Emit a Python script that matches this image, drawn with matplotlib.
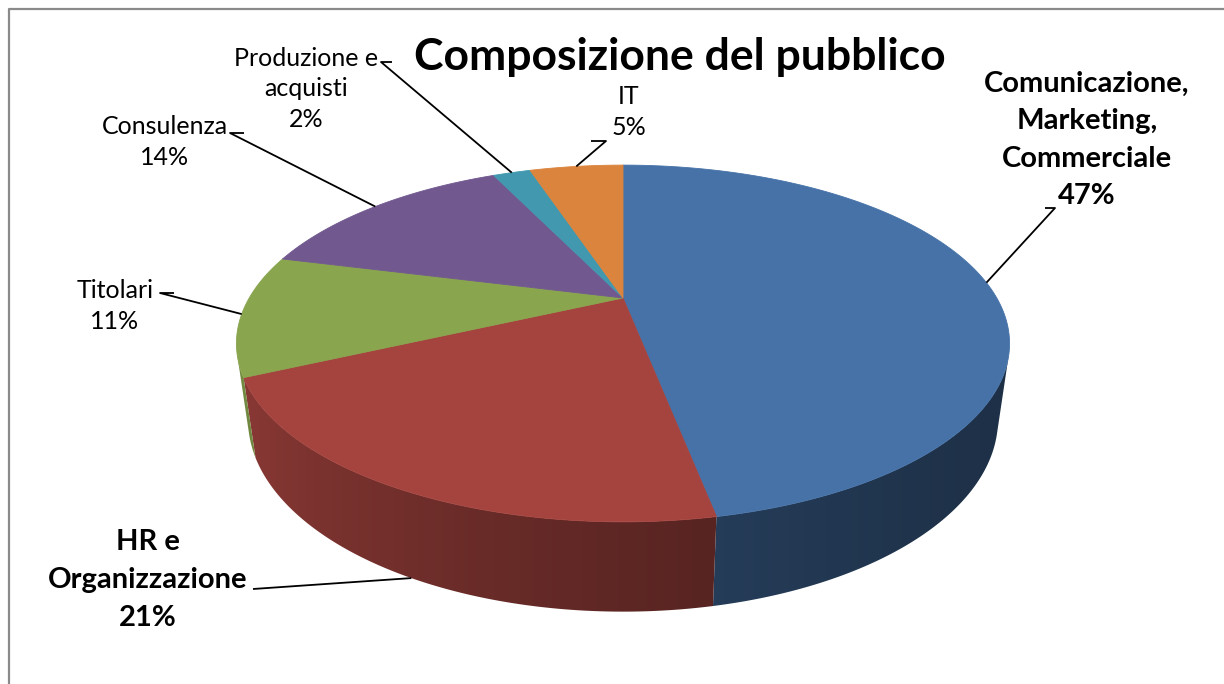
import numpy as np
import matplotlib.pyplot as plt
from matplotlib.patches import Polygon
from matplotlib.colors import to_rgb

categories = ['Comunicazione,\nMarketing,\nCommerciale', 'HR e\nOrganizzazione', 'Titolari',
              'Consulenza', 'Produzione e\nacquisti', 'IT']
shares = [47, 21, 11, 14, 2, 5]
colors = ['#4672A8', '#A5443F', '#89A54E', '#71588F', '#4298AF', '#DB843D']
bold = [True, True, False, False, False, False]

# label placement (centre of text block) and leader elbow points, in pixels
label_xy = [(1087, 140), (148, 580), (115, 306), (165, 142), (306, 89), (629, 112)]
elbows = [[(1055, 208), (1045, 208)], [(253, 589)], [(160, 293), (174, 293)],
          [(230, 133), (244, 133)], [(381, 62), (392, 62)], [(606, 141), (591, 141)]]

# 3d camera for the pie
ELEV = np.radians(26.5)
DIST = 3.51
SCALE = 1312
CX, CY = 623, 298
THICK = 0.227


def project(theta, z):
    # theta measured clockwise from 12 o'clock, unit radius
    x = np.sin(theta)
    y = np.cos(theta)
    c, s = np.cos(ELEV), np.sin(ELEV)
    depth = DIST + y * c - z * s
    return CX + SCALE * x / depth, CY - SCALE * (y * s + z * c) / depth


fig = plt.figure(figsize=(12.24, 6.84), dpi=100)
ax = fig.add_axes([0, 0, 1, 1])

ax.plot([9, 9, 1230], [690, 9, 9], color='#8a8a8a', lw=1.6)

fracs = np.array(shares) / sum(shares)
edges = np.concatenate([[0], np.cumsum(fracs)]) * 2 * np.pi

# outer wall, only the part facing the camera, shaded left to right
lim = np.arccos(-1 / (DIST * np.cos(ELEV)))
vis0, vis1 = lim, 2 * np.pi - lim
xl, _ = project(vis1, 0)
xr, _ = project(vis0, 0)
gx = np.linspace(xl - 5, xr + 5, 400)
fac = 0.86 - 0.44 * np.clip((gx - xl) / (xr - xl), 0, 1) ** 0.6
for i, col in enumerate(colors):
    a0, a1 = max(edges[i], vis0), min(edges[i + 1], vis1)
    if a1 <= a0:
        continue
    th = np.linspace(a0, a1, 200)
    xt, yt = project(th, 0)
    xb, yb = project(th[::-1], -THICK)
    poly = Polygon(np.column_stack([np.r_[xt, xb], np.r_[yt, yb]]), closed=True,
                   fc='none', ec='none')
    ax.add_patch(poly)
    img = np.array(to_rgb(col))[None, None, :] * fac[None, :, None]
    im = ax.imshow(img, extent=(gx[0], gx[-1], 640, 300), aspect='auto',
                   interpolation='bilinear', zorder=1)
    im.set_clip_path(poly)

# top faces
for i, col in enumerate(colors):
    th = np.linspace(edges[i], edges[i + 1], 200)
    xr_, yr_ = project(th, 0)
    pts = np.column_stack([np.r_[CX, xr_], np.r_[CY, yr_]])
    ax.add_patch(Polygon(pts, closed=True, fc=col, ec=col, lw=0.6, zorder=2))

# labels and leader lines
for i, cat in enumerate(categories):
    mid = (edges[i] + edges[i + 1]) / 2
    z = -THICK if i == 1 else 0
    axp, ayp = project(mid, z)
    path = [(axp, ayp)] + elbows[i]
    ax.plot([p[0] for p in path], [p[1] for p in path], color='black', lw=1.3,
            solid_capstyle='butt', zorder=3)
    lx, ly = label_xy[i]
    ax.text(lx, ly, f'{cat}\n{shares[i]}%', ha='center', va='center', family='Lato',
            fontsize=21 if bold[i] else 18, fontweight='bold' if bold[i] else 'normal',
            linespacing=1.55 if bold[i] else 1.42, zorder=4)

ax.text(680, 70, 'Composizione del pubblico', ha='center', va='baseline', family='Lato',
        fontsize=32, fontweight='bold')

ax.set_xlim(0, 1224)
ax.set_ylim(684, 0)
ax.axis('off')

plt.savefig('out.png', dpi=100)
plt.close(fig)
